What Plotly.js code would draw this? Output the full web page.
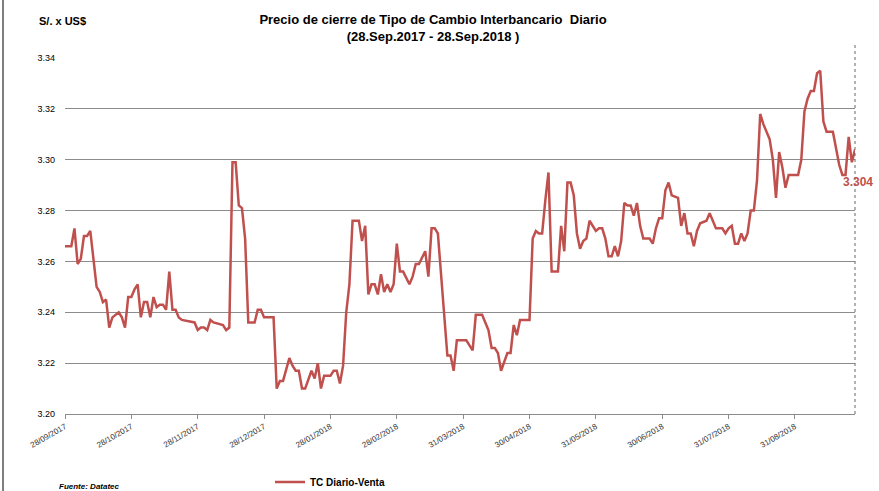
<!DOCTYPE html>
<html>
<head>
<meta charset="utf-8">
<script src="https://cdn.plot.ly/plotly-3.0.1.min.js"></script>
<style>
  html, body { margin: 0; padding: 0; background: #ffffff; }
  #chart { width: 879px; height: 491px; }
</style>
</head>
<body>
<div id="chart"></div>
<script>
// Trading-day position (0 = 28/09/2017, 250 = 28/09/2018) and closing value (S/. per US$)
const dayIndex = [0,2,3,4,5,6,7,8,9,10,11,12,13,14,15,16,17,18,19,20,21,22,23,24,25,26,27,28,29,30,31,32,33,34,35,36,37,41,42,43,44,45,46,47,50,51,52,53,54,55,56,57,58,60,61,62,63,66,67,68,69,71,72,73,74,75,76,78,79,80,81,82,84,85,86,87,88,89,90,91,93,94,95,96,97,98,99,100,101,102,103,104,105,106,107,109,110,111,112,114,115,116,117,118,121,122,123,124,127,128,129,130,132,133,134,135,136,137,138,140,141,142,143,144,147,148,149,150,151,152,153,154,156,157,158,159,160,161,162,163,164,165,166,168,169,170,171,172,173,174,175,176,177,178,179,180,181,182,183,185,186,187,188,189,190,191,192,194,195,196,197,198,199,200,201,203,204,205,206,208,209,210,211,212,213,214,215,216,217,218,219,220,221,222,223,224,225,226,227,228,229,232,233,234,235,236,237,238,239,240,241,243,244,245,246,247,248,249,250];
const tcVenta = [3.266,3.266,3.273,3.259,3.261,3.270,3.270,3.272,3.261,3.250,3.248,3.244,3.245,3.234,3.238,3.239,3.240,3.238,3.234,3.246,3.246,3.249,3.251,3.238,3.244,3.244,3.238,3.246,3.242,3.243,3.243,3.241,3.256,3.241,3.241,3.238,3.237,3.236,3.233,3.234,3.234,3.233,3.237,3.236,3.235,3.233,3.234,3.299,3.299,3.282,3.281,3.269,3.236,3.236,3.241,3.241,3.238,3.238,3.210,3.213,3.213,3.222,3.219,3.217,3.217,3.210,3.210,3.217,3.214,3.220,3.210,3.215,3.215,3.217,3.217,3.212,3.219,3.240,3.251,3.276,3.276,3.268,3.274,3.247,3.251,3.251,3.247,3.255,3.248,3.251,3.248,3.251,3.267,3.256,3.256,3.251,3.254,3.259,3.259,3.264,3.254,3.273,3.273,3.271,3.223,3.223,3.217,3.229,3.229,3.227,3.225,3.239,3.239,3.236,3.233,3.226,3.226,3.224,3.217,3.224,3.224,3.235,3.231,3.237,3.237,3.269,3.272,3.271,3.271,3.284,3.295,3.256,3.256,3.274,3.264,3.291,3.291,3.286,3.271,3.265,3.268,3.269,3.276,3.272,3.273,3.273,3.269,3.262,3.262,3.266,3.262,3.268,3.283,3.282,3.282,3.278,3.283,3.274,3.269,3.269,3.267,3.273,3.277,3.277,3.288,3.291,3.286,3.285,3.274,3.279,3.271,3.271,3.266,3.272,3.275,3.276,3.279,3.276,3.273,3.273,3.271,3.273,3.274,3.267,3.267,3.271,3.268,3.271,3.280,3.280,3.292,3.318,3.314,3.311,3.308,3.300,3.285,3.303,3.297,3.289,3.294,3.294,3.300,3.319,3.324,3.327,3.327,3.334,3.335,3.315,3.311,3.311,3.305,3.298,3.294,3.294,3.309,3.299,3.304];

const tickIdx = [0,21,42,63,84,105,126,147,168,189,210,231];
const tickLabels = ["28/09/2017","28/10/2017","28/11/2017","28/12/2017","28/01/2018","28/02/2018","31/03/2018","30/04/2018","31/05/2018","30/06/2018","31/07/2018","31/08/2018"];

const seriesName = "TC Diario-Venta";
const lastLabel = tcVenta[tcVenta.length - 1].toFixed(3);

const RED = "#c0504d";
const W = 879, H = 491;
const M = {l: 65, r: 24, t: 58, b: 77};
const plotW = W - M.l - M.r, plotH = H - M.t - M.b;
const px = x => (x - M.l) / plotW;          // pixel -> paper x
const py = y => (H - M.b - y) / plotH;      // pixel -> paper y

const trace = {
  x: dayIndex,
  y: tcVenta,
  type: "scatter",
  mode: "lines",
  name: seriesName,
  line: {color: RED, width: 2.5},
  hoverinfo: "x+y"
};

const layout = {
  width: W, height: H,
  margin: Object.assign({autoexpand: false}, M),
  paper_bgcolor: "#ffffff",
  plot_bgcolor: "#ffffff",
  font: {family: "Liberation Sans, Arial, sans-serif", color: "#000"},
  title: {
    text: "Precio de cierre de Tipo de Cambio Interbancario  Diario<br>(28.Sep.2017 - 28.Sep.2018 )",
    font: {family: "Liberation Sans Narrow, Liberation Sans, sans-serif", size: 13, weight: "bold", color: "#000"},
    xref: "container", x: 433 / W, xanchor: "center",
    yref: "container", y: 1 - 24 / H, yanchor: "top"
  },
  xaxis: {
    type: "linear",
    range: [0, 250],
    tickmode: "array",
    tickvals: tickIdx,
    ticktext: tickLabels,
    tickangle: -30,
    tickfont: {size: 8, color: "#333"},
    ticks: "outside", ticklen: 4, tickcolor: "#8c8c8c",
    showline: true, linecolor: "#8c8c8c", linewidth: 1,
    showgrid: false, zeroline: false, fixedrange: true
  },
  yaxis: {
    range: [3.20, 3.34],
    dtick: 0.02, tick0: 3.20,
    tickformat: ".2f",
    tickfont: {size: 9, color: "#000"},
    ticks: "", ticklabelstandoff: 9,
    showgrid: true, gridcolor: "#8c8c8c", gridwidth: 1,
    showline: false, zeroline: false, fixedrange: true
  },
  showlegend: true,
  legend: {
    orientation: "h",
    xref: "container", yref: "container",
    x: 270 / W, xanchor: "left",
    y: 1 - 482 / H, yanchor: "middle",
    font: {family: "Liberation Sans Narrow, Liberation Sans, sans-serif", size: 10, weight: "bold", color: "#000"},
    itemwidth: 30,
    bgcolor: "rgba(0,0,0,0)"
  },
  annotations: [
    {
      text: "S/. x US$", showarrow: false,
      xref: "paper", yref: "paper", x: px(37), y: py(21), xanchor: "left", yanchor: "middle",
      font: {family: "Liberation Sans Narrow, Liberation Sans, sans-serif", size: 11, weight: "bold", color: "#000"}
    },
    {
      text: "<b><i>Fuente: Datatec</i></b>", showarrow: false,
      xref: "paper", yref: "paper", x: px(57), y: py(486), xanchor: "left", yanchor: "middle",
      font: {family: "Liberation Sans, sans-serif", size: 8, color: "#000"}
    },
    {
      text: lastLabel, showarrow: false,
      xref: "x", yref: "y", x: dayIndex[dayIndex.length - 1], y: tcVenta[tcVenta.length - 1],
      xanchor: "center", yanchor: "middle", xshift: 3, yshift: -32,
      font: {family: "Liberation Sans, sans-serif", size: 12, weight: "bold", color: RED}
    }
  ],
  shapes: [
    {type: "line", xref: "paper", yref: "paper", x0: 1, x1: 1, y0: 0, y1: py(45),
     line: {color: "#666", width: 1, dash: "dot"}},
    {type: "line", xref: "paper", yref: "paper", x0: px(3), x1: px(3), y0: py(H), y1: py(0),
     line: {color: "#7f7f7f", width: 2}}
  ]
};

Plotly.newPlot("chart", [trace], layout, {displayModeBar: false, staticPlot: true});
</script>
</body>
</html>
